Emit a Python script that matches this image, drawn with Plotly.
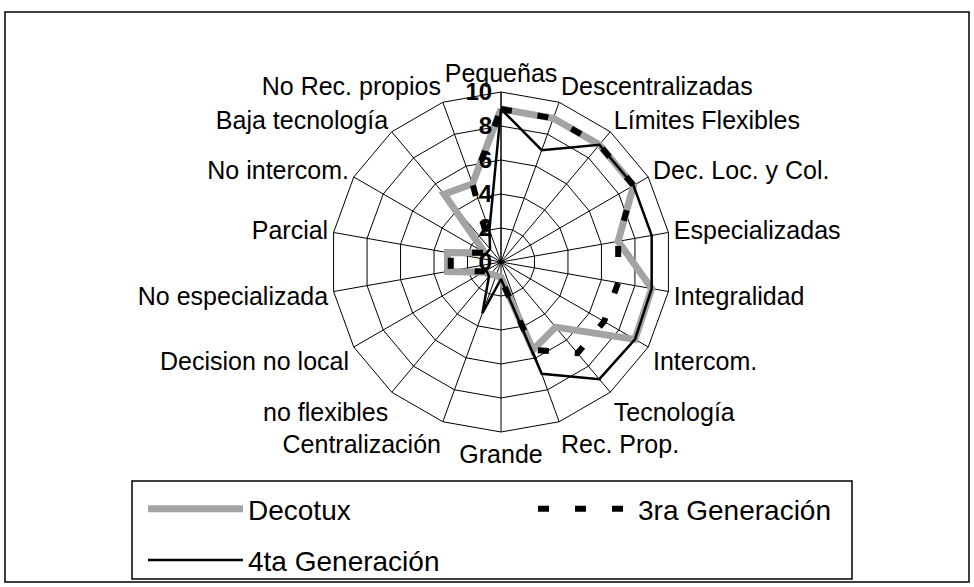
import plotly.graph_objects as go

# Categories (clockwise from the top)
categories = ['Pequeñas', 'Descentralizadas', 'Límites Flexibles', 'Dec. Loc. y Col.',
              'Especializadas', 'Integralidad', 'Intercom.', 'Tecnología', 'Rec. Prop.',
              'Grande', 'Centralización', 'no flexibles', 'Decision no local',
              'No especializada', 'Parcial', 'No intercom.', 'Baja tecnología',
              'No Rec. propios']

# Series values
decotux = [9, 9, 9, 9, 7, 9, 9.1, 5, 5.5, 0.9, 0.85, 0.95, 1.2, 3.2, 3.2, 1.1, 5.2, 4.9]
gen3 = [9, 9, 9, 9, 7, 7, 7, 7, 5.5, 1, 1, 1, 1.1, 3, 3, 1.1, 1, 4.9]
gen4 = [9, 7, 9, 9, 9, 9, 9.1, 9, 7, 1, 3.2, 1.1, 1, 1.2, 1.2, 1, 1, 2]

radial_ticks = [0, 2, 4, 6, 8, 10]

W, H = 974, 587
FONT = 'Liberation Sans, Arial, sans-serif'


def closed(vals):
    return vals + vals[:1]


theta = closed(categories)

fig = go.Figure()

fig.add_trace(go.Scatterpolar(
    r=closed(decotux), theta=theta, mode='lines', name='Decotux',
    legend='legend', legendgroup='a',
    line=dict(color='#a3a3a3', width=7)
))
fig.add_trace(go.Scatterpolar(
    r=closed(gen3), theta=theta, mode='lines', name='3ra Generación',
    legend='legend2',
    line=dict(color='black', width=6, dash='11px,26px')
))
fig.add_trace(go.Scatterpolar(
    r=closed(gen4), theta=theta, mode='lines', name='4ta Generación',
    legend='legend', legendgroup='b',
    line=dict(color='black', width=2.5)
))

# centre (501, 262), radius 170 px
cx, cy, R = 501, 262, 170

legend_common = dict(xanchor='left', yanchor='top', bgcolor='rgba(0,0,0,0)',
                     borderwidth=0, font=dict(size=28), itemwidth=95)

fig.update_layout(
    width=W, height=H,
    margin=dict(l=0, r=0, t=0, b=0),
    paper_bgcolor='white',
    font=dict(family=FONT, size=25, color='black'),
    polar=dict(
        domain=dict(x=[(cx - R) / W, (cx + R) / W], y=[1 - (cy + R) / H, 1 - (cy - R) / H]),
        bgcolor='white',
        gridshape='linear',
        angularaxis=dict(
            rotation=90, direction='clockwise',
            showline=True, linecolor='black', linewidth=1,
            gridcolor='black', gridwidth=1,
            ticks='', tickfont=dict(size=25),
        ),
        radialaxis=dict(
            range=[0, 10], tickvals=radial_ticks,
            angle=90, side='counterclockwise', tickangle=90,
            showline=True, linecolor='black', linewidth=1,
            gridcolor='black', gridwidth=1,
            ticks='', tickfont=dict(size=24, weight='bold'),
        ),
    ),
    legend=dict(x=143 / W, y=1 - 484 / H, traceorder='grouped', tracegroupgap=12,
                **legend_common),
    legend2=dict(x=533 / W, y=1 - 484 / H, **legend_common),
    shapes=[
        dict(type='rect', xref='paper', yref='paper',
             x0=5 / W, x1=969 / W, y0=1 - 582 / H, y1=1 - 12 / H,
             line=dict(color='black', width=1.5)),
        dict(type='rect', xref='paper', yref='paper',
             x0=132 / W, x1=852 / W, y0=1 - 579 / H, y1=1 - 481 / H,
             line=dict(color='black', width=1.5)),
    ],
)

fig.write_html('out.html', config={'displayModeBar': False},
               post_script="document.body.style.margin='0';")
